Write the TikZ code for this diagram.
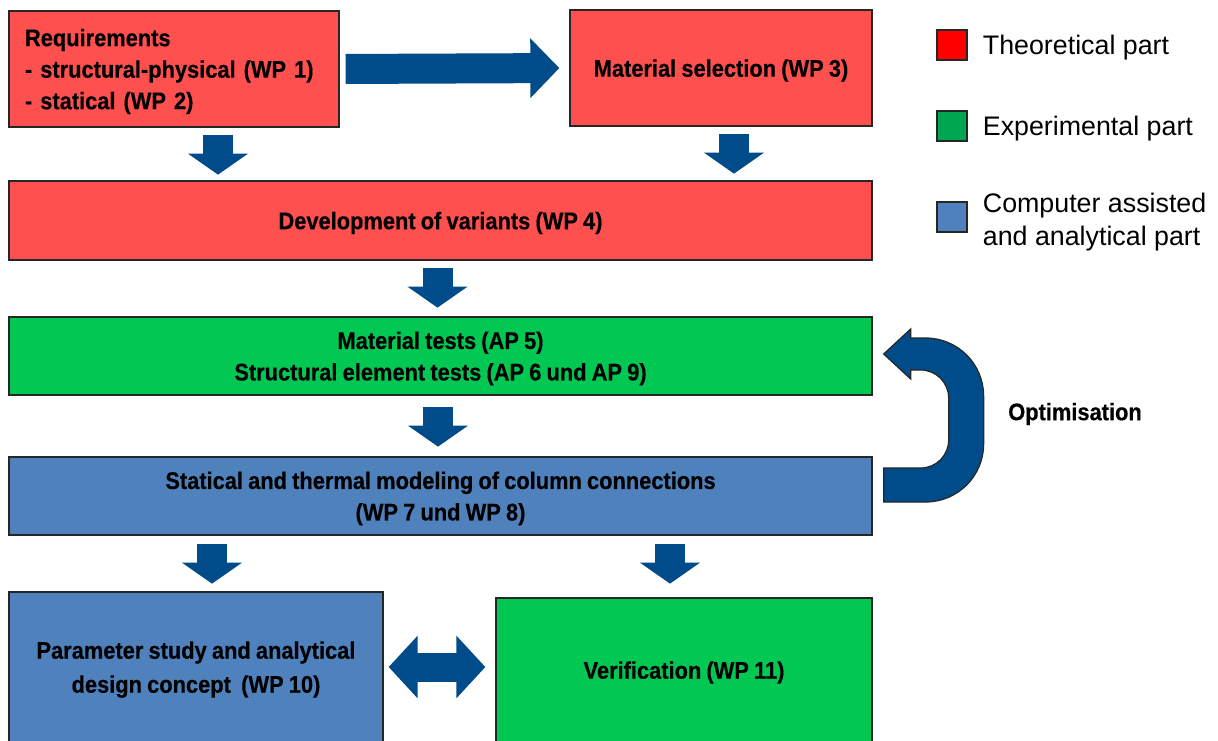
\documentclass[tikz,border=0pt]{standalone}
\usepackage{fontspec}
\setmainfont{Liberation Sans}
\newfontfamily\boxfont[FakeStretch=0.91,WordSpace=0.85,FakeBold=0.4]{Liberation Sans}
\usetikzlibrary{arrows.meta,positioning}
\definecolor{theored}{RGB}{255,80,80}
\definecolor{expgreen}{RGB}{0,200,83}
\definecolor{compblue}{RGB}{79,129,189}
\definecolor{arrblue}{RGB}{0,76,138}
\definecolor{legred}{RGB}{255,0,0}
\definecolor{leggreen}{RGB}{0,166,80}
\tikzset{
  wpbox/.style={draw=black!85,line width=1.3pt,inner sep=0pt,align=center,text depth=0pt,font=\boxfont\bfseries\fontsize{24}{31.5}\selectfont},
  theo/.style={wpbox,fill=theored},
  expe/.style={wpbox,fill=expgreen},
  comp/.style={wpbox,fill=compblue},
  downarr/.style={arrblue,line width=30pt,-{Triangle[length=21pt,width=59pt]}},
  legsq/.style={draw=black!85,line width=1.4pt,minimum size=30pt,inner sep=0pt},
  legtext/.style={font=\fontsize{26.8}{33}\selectfont,align=left,inner sep=0pt,anchor=west}
}
\begin{document}
\begin{tikzpicture}[x=1pt,y=-1pt]
\clip (0,0) rectangle (1218,740);
% work packages
\node[theo,minimum width=330pt,minimum height=116pt,text width=298pt,text depth=63pt,align=left] (req) at (174,69) {Requirements\\- structural-physical (WP 1)\\- statical (WP 2)};
\node[theo,minimum width=302pt,minimum height=116pt] (mat) at (721,68) {Material selection (WP 3)};
\node[theo,minimum width=863pt,minimum height=79pt] (dev) at (440.5,220.5) {Development of variants (WP 4)};
\node[expe,minimum width=863pt,minimum height=78pt] (tests) at (440.5,356) {Material tests (AP 5)\\Structural element tests (AP 6 und AP 9)};
\node[comp,minimum width=863pt,minimum height=78pt] (model) at (440.5,496) {Statical and thermal modeling of column connections\\(WP 7 und WP 8)};
\node[comp,minimum width=374pt,minimum height=150pt,font=\boxfont\bfseries\fontsize{24}{34}\selectfont] (param) at (196,667) {Parameter study and analytical\\design concept~~(WP 10)};
\node[expe,minimum width=376pt,minimum height=144pt] (verif) at (684,670) {Verification (WP 11)};
% arrows
\draw[arrblue,line width=30pt,-{Triangle[length=29pt,width=58pt]},shorten <=6pt,shorten >=10pt] (req.east) -- (mat.west);
\draw[downarr] ([xshift=44pt,yshift=-7pt]req.south) -- ++(0,40);
\draw[downarr] ([xshift=13pt,yshift=-7pt]mat.south) -- ++(0,40);
\draw[downarr] ([xshift=-3pt,yshift=-7pt]dev.south) -- ++(0,40);
\draw[downarr] ([xshift=-2.5pt,yshift=-11pt]tests.south) -- ++(0,40);
\draw[downarr] ([xshift=-228.5pt,yshift=-8pt]model.south) -- ++(0,40);
\draw[downarr] ([xshift=229.5pt,yshift=-8pt]model.south) -- ++(0,40);
\draw[arrblue,line width=29pt,{Triangle[length=29pt,width=61pt]}-{Triangle[length=29pt,width=61pt]},shorten <=5pt,shorten >=10pt] (param.east) -- (param.east -| verif.west);
% optimisation loop
\begin{scope}[shift={(model.east)}]
\filldraw[fill=arrblue,draw=black!85,line width=1.2pt] (11,6) -- (53,6) arc(-90:0:58pt) -- (111,-100) arc(0:90:58pt) -- (38,-158) -- (38,-167) -- (11,-142) -- (38,-117) -- (38,-126) -- (48,-126) arc(90:0:28pt) -- (76,-56) arc(0:-90:28pt) -- (11,-28) -- cycle;
\end{scope}
\node[font=\boxfont\bfseries\fontsize{24}{30}\selectfont] (opt) at (1075,414) {Optimisation};
% legend
\node[legsq,fill=legred] (sqtheo) at (952,45) {};
\node[legsq,fill=leggreen] (sqexpe) at (952,126) {};
\node[legsq,fill=compblue] (sqcomp) at (952,217) {};
\node[legtext,right=15pt of sqtheo,yshift=-3pt] (lbtheo) {Theoretical part};
\node[legtext,right=15pt of sqexpe,yshift=-3pt] (lbexpe) {Experimental part};
\node[legtext,right=15pt of sqcomp,yshift=-5pt] (lbcomp) {Computer assisted\\and analytical part};
\end{tikzpicture}
\end{document}
